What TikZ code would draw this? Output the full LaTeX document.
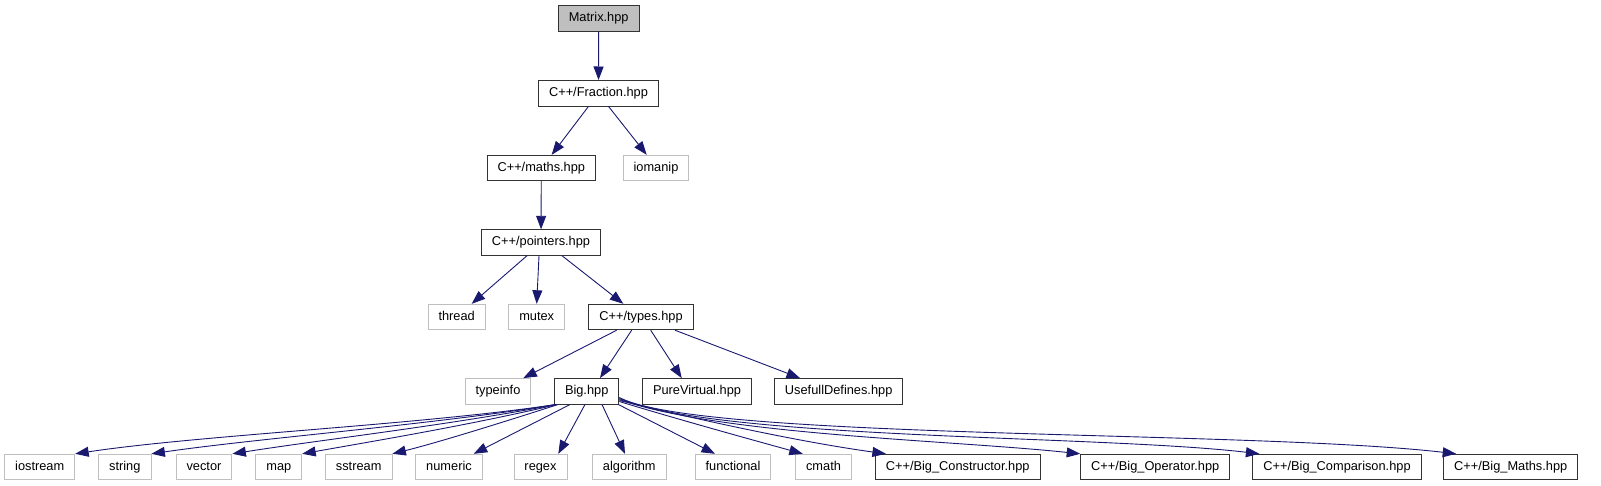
\documentclass[tikz,border=0pt]{standalone}
\usepackage{fontspec}
\setmainfont{Liberation Sans}
\usetikzlibrary{arrows.meta}
\definecolor{eblue}{HTML}{191970}
\definecolor{lgray}{HTML}{BFBFBF}
\newfontfamily\dfont{Liberation Sans}
\tikzset{
  fnode/.style={draw=black!80, line width=0.9pt, fill=white, inner xsep=10.5pt, inner ysep=0pt, text height=9.4pt, text depth=2.8pt, minimum height=25.5pt, font=\dfont\fontsize{12.8pt}{14pt}\selectfont, text=black},
  extnode/.style={fnode, draw=lgray},
  curnode/.style={fnode, fill=lgray},
  dep/.style={draw=eblue, line width=0.9pt, -{Triangle[length=13.5pt,width=10pt]}, fill=none}
}
\begin{document}
\begin{tikzpicture}[x=1pt,y=-1pt]
\useasboundingbox (0,0) rectangle (1601,485);
% nodes
\node[curnode] (matrix) at (598.7,18.5) {Matrix.hpp};
\node[fnode] (frac) at (598.5,93.2) {C++/Fraction.hpp};
\node[fnode] (mths) at (541.3,168) {C++/maths.hpp};
\node[extnode] (iomanip) at (656,168) {iomanip};
\node[fnode] (ptrs) at (541,242.5) {C++/pointers.hpp};
\node[extnode] (thread) at (456.7,317) {thread};
\node[extnode] (mutex) at (536.7,317) {mutex};
\node[fnode] (types) at (641,317) {C++/types.hpp};
\node[extnode] (typeinfo) at (498,391.3) {typeinfo};
\node[fnode] (big) at (586.7,391.3) {Big.hpp};
\node[fnode] (purev) at (697,391.3) {PureVirtual.hpp};
\node[fnode] (usef) at (838.7,391.3) {UsefullDefines.hpp};
\node[extnode] (iostream) at (39.7,467) {iostream};
\node[extnode] (string) at (124.8,467) {string};
\node[extnode] (vector) at (204,467) {vector};
\node[extnode] (map) at (278.8,467) {map};
\node[extnode] (sstream) at (358.7,467) {sstream};
\node[extnode] (numeric) at (449,467) {numeric};
\node[extnode] (regex) at (540.5,467) {regex};
\node[extnode] (algorithm) at (629.3,467) {algorithm};
\node[extnode] (functional) at (733,467) {functional};
\node[extnode] (cmath) at (823.5,467) {cmath};
\node[fnode] (bcons) at (957.7,467) {C++/Big\_Constructor.hpp};
\node[fnode] (bop) at (1155.2,467) {C++/Big\_Operator.hpp};
\node[fnode] (bcomp) at (1337,467) {C++/Big\_Comparison.hpp};
\node[fnode] (bmaths) at (1510.7,467) {C++/Big\_Maths.hpp};
% edges
\draw[dep] (matrix) -- (frac);
\draw[dep] ([xshift=-10pt]frac.south) -- ([xshift=10.4pt]mths.north);
\draw[dep] ([xshift=10pt]frac.south) -- ([xshift=-9.3pt]iomanip.north);
\draw[dep] (mths) -- (ptrs);
\draw[dep] ([xshift=-14pt]ptrs.south) -- ([xshift=15pt]thread.north);
\draw[dep] ([xshift=-2pt]ptrs.south) -- (mutex.north);
\draw[dep] ([xshift=21pt]ptrs.south) -- ([xshift=-17.7pt]types.north);
\draw[dep] ([xshift=-24.3pt]types.south) -- ([xshift=25.3pt]typeinfo.north);
\draw[dep] ([xshift=-9.3pt]types.south) -- ([xshift=13.3pt]big.north);
\draw[dep] ([xshift=9.7pt]types.south) -- ([xshift=-15.3pt]purev.north);
\draw[dep] ([xshift=34pt]types.south) -- ([xshift=-38.7pt]usef.north);
% Big.hpp dependencies
\draw[dep] ([xshift=2pt]big.south west) .. controls (420,425) and (200,435) .. (iostream.north east);
\draw[dep] ([xshift=2pt]big.south west) .. controls (430,425) and (260,438) .. (string.north east);
\draw[dep] ([xshift=2pt]big.south west) .. controls (450,425) and (320,440) .. (vector.north east);
\draw[dep] ([xshift=3pt]big.south west) .. controls (470,425) and (380,440) .. (map.north east);
\draw[dep] ([xshift=4pt]big.south west) .. controls (510,420) and (440,442) .. (sstream.north east);
\draw[dep] ([xshift=16pt]big.south west) -- ([xshift=-9pt]numeric.north east);
\draw[dep] ([xshift=-1.7pt]big.south) -- ([xshift=17.8pt]regex.north);
\draw[dep] ([xshift=15.3pt]big.south) -- ([xshift=-4.3pt]algorithm.north);
\draw[dep] ([xshift=-1pt]big.south east) -- ([xshift=-18pt]functional.north);
\draw[dep] ([yshift=3pt]big.south east) .. controls (680,420) and (760,442) .. ([xshift=7.7pt]cmath.north west);
\draw[dep] ([yshift=4pt]big.south east) .. controls (700,420) and (800,442) .. ([xshift=11pt]bcons.north west);
\draw[dep] ([yshift=5pt]big.south east) .. controls (720,435) and (950,440) .. (bop.north west);
\draw[dep] ([yshift=6pt]big.south east) .. controls (720,440) and (1100,435) .. ([xshift=7pt]bcomp.north west);
\draw[dep] ([yshift=7pt]big.south east) .. controls (700,440) and (1250,430) .. ([xshift=13pt]bmaths.north west);
\end{tikzpicture}
\end{document}
